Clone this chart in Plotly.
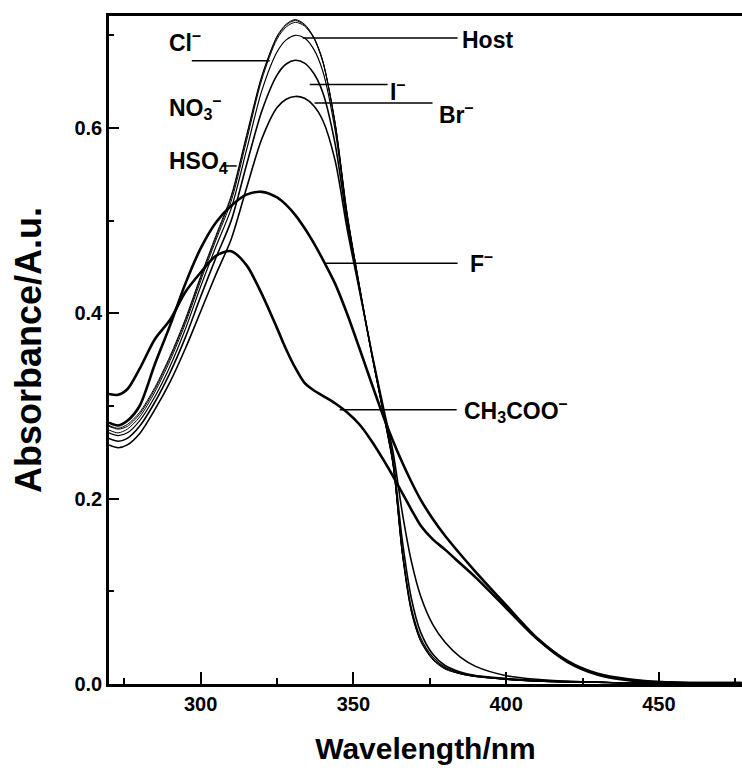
import plotly.graph_objects as go

# ---------------- data ----------------
wavelength = [270, 273, 276, 280, 285, 290, 295, 300, 305, 310, 315, 320, 325, 328, 331, 334, 337, 340, 344,
              348, 352, 356, 360, 363, 366, 369, 372, 376, 380, 385, 390, 400, 410, 420, 430, 440, 450, 460, 477]

abs_cl = [0.279, 0.276, 0.280, 0.293, 0.320, 0.354, 0.394, 0.440, 0.484, 0.527, 0.592, 0.656, 0.699, 0.712, 0.717, 0.712,
          0.698, 0.672, 0.605, 0.505, 0.428, 0.355, 0.288, 0.235, 0.140, 0.077, 0.046, 0.026, 0.016, 0.011, 0.008,
          0.005, 0.003, 0.002, 0.002, 0.001, 0.001, 0.001, 0.001]
abs_no3 = [0.274, 0.271, 0.275, 0.288, 0.315, 0.349, 0.389, 0.435, 0.479, 0.521, 0.586, 0.652, 0.696, 0.709, 0.714,
           0.710, 0.697, 0.671, 0.605, 0.506, 0.429, 0.356, 0.289, 0.236, 0.141, 0.078, 0.047, 0.027, 0.017, 0.011,
           0.008, 0.005, 0.003, 0.002, 0.002, 0.001, 0.001, 0.001, 0.001]
abs_hso4 = [0.278, 0.275, 0.278, 0.291, 0.318, 0.352, 0.392, 0.438, 0.482, 0.525, 0.590, 0.655, 0.698, 0.711, 0.716,
            0.711, 0.698, 0.672, 0.606, 0.507, 0.430, 0.357, 0.290, 0.237, 0.142, 0.079, 0.047, 0.027, 0.017, 0.011,
            0.008, 0.005, 0.003, 0.002, 0.002, 0.001, 0.001, 0.001, 0.001]
abs_host = [0.271, 0.268, 0.271, 0.284, 0.310, 0.343, 0.383, 0.429, 0.472, 0.513, 0.576, 0.640, 0.682, 0.695, 0.700,
            0.697, 0.685, 0.661, 0.598, 0.503, 0.428, 0.356, 0.290, 0.238, 0.145, 0.082, 0.050, 0.029, 0.018, 0.012,
            0.009, 0.005, 0.003, 0.002, 0.002, 0.001, 0.001, 0.001, 0.001]
abs_i = [0.265, 0.262, 0.265, 0.278, 0.304, 0.336, 0.374, 0.418, 0.460, 0.500, 0.560, 0.618, 0.657, 0.669, 0.673, 0.670,
         0.659, 0.638, 0.583, 0.497, 0.426, 0.357, 0.292, 0.242, 0.155, 0.092, 0.056, 0.032, 0.020, 0.013, 0.009,
         0.006, 0.004, 0.003, 0.002, 0.001, 0.001, 0.001, 0.001]
abs_br = [0.258, 0.255, 0.258, 0.270, 0.296, 0.326, 0.362, 0.402, 0.442, 0.480, 0.535, 0.588, 0.622, 0.631, 0.634,
          0.632, 0.624, 0.608, 0.565, 0.490, 0.424, 0.358, 0.296, 0.250, 0.185, 0.132, 0.095, 0.064, 0.045, 0.029,
          0.019, 0.009, 0.005, 0.003, 0.002, 0.001, 0.001, 0.001, 0.001]
abs_f = [0.282, 0.279, 0.284, 0.300, 0.345, 0.387, 0.432, 0.470, 0.498, 0.516, 0.528, 0.531, 0.525, 0.517, 0.506,
         0.492, 0.476, 0.458, 0.432, 0.399, 0.362, 0.324, 0.287, 0.262, 0.239, 0.218, 0.199, 0.178, 0.160, 0.140,
         0.121, 0.085, 0.050, 0.025, 0.011, 0.005, 0.002, 0.001, 0.001]
abs_ac = [0.313, 0.312, 0.318, 0.340, 0.372, 0.393, 0.423, 0.444, 0.462, 0.467, 0.452, 0.421, 0.384, 0.361, 0.341,
          0.325, 0.317, 0.311, 0.303, 0.293, 0.280, 0.262, 0.241, 0.224, 0.206, 0.188, 0.171, 0.156, 0.145, 0.130,
          0.115, 0.082, 0.049, 0.024, 0.010, 0.004, 0.002, 0.001, 0.001]

series_names = ["Cl-", "NO3-", "HSO4-", "Host", "I-", "Br-", "F-", "CH3COO-"]
series_values = [abs_cl, abs_no3, abs_hso4, abs_host, abs_i, abs_br, abs_f, abs_ac]
series_widths = [1, 1, 1, 1.2, 1.6, 1.6, 2.6, 2.6]

# label texts, positions (data coords) and leader lines
label_texts = ["Cl<sup>–</sup>", "Host", "I<sup>–</sup>", "Br<sup>–</sup>", "NO<sub>3</sub><sup>–</sup>",
               "HSO<sub>4</sub>", "F<sup>–</sup>", "CH<sub>3</sub>COO<sup>–</sup>"]
label_x = [288.9, 384.8, 361.2, 377.3, 288.9, 288.9, 387.4, 385.4]
label_y = [0.694, 0.695, 0.641, 0.616, 0.623, 0.563, 0.455, 0.296]
leader_x0 = [297.1, 333.4, 335.7, 337.3, 306.9, 340.6, 345.5]
leader_x1 = [322.6, 384.1, 361.2, 375.9, 311.8, 384.1, 383.8]
leader_y = [0.6726, 0.697, 0.647, 0.627, 0.559, 0.454, 0.296]

x_ticks = [300, 350, 400, 450]
y_ticks = [0.0, 0.2, 0.4, 0.6]

FONT = "Liberation Sans, Arial, sans-serif"

fig = go.Figure()
for name, vals, w in zip(series_names, series_values, series_widths):
    fig.add_trace(go.Scatter(x=wavelength, y=vals, mode="lines", name=name,
                             line=dict(color="black", width=w, shape="spline", smoothing=0.8),
                             showlegend=False, hoverinfo="x+y+name"))

for t, lx, ly in zip(label_texts, label_x, label_y):
    fig.add_annotation(x=lx, y=ly, xref="x", yref="y", text=t, showarrow=False,
                       xanchor="left", yanchor="middle",
                       font=dict(family=FONT, size=23, color="black", weight="bold"))

for x0, x1, y in zip(leader_x0, leader_x1, leader_y):
    fig.add_shape(type="line", xref="x", yref="y", x0=x0, x1=x1, y0=y, y1=y,
                  line=dict(color="black", width=1.5))

fig.update_layout(
    width=742, height=771,
    margin=dict(l=109, r=0, t=16, b=87),
    paper_bgcolor="white", plot_bgcolor="white",
    font=dict(family=FONT, color="black"),
)
fig.update_xaxes(
    range=[270, 477.2], tickvals=x_ticks, ticktext=[str(v) for v in x_ticks],
    ticks="inside", ticklen=12, tickwidth=2, tickcolor="black",
    minor=dict(dtick=25, tick0=275, ticks="inside", ticklen=6, tickwidth=2, tickcolor="black"),
    showline=True, linecolor="black", linewidth=2.5, mirror=True,
    showgrid=False, zeroline=False,
    tickfont=dict(family=FONT, size=20, color="black", weight="bold"),
    title=dict(text="Wavelength/nm", font=dict(family=FONT, size=30, color="black", weight="bold"), standoff=25),
)
fig.update_yaxes(
    range=[0, 0.7208], tickvals=y_ticks, ticktext=["%.1f" % v for v in y_ticks],
    ticks="inside", ticklen=10, tickwidth=2, tickcolor="black",
    minor=dict(dtick=0.1, tick0=0.1, ticks="inside", ticklen=5, tickwidth=2, tickcolor="black"),
    showline=True, linecolor="black", linewidth=2.5, mirror=False,
    showgrid=False, zeroline=False,
    tickfont=dict(family=FONT, size=20, color="black", weight="bold"),
    title=dict(text="Absorbance/A.u.", font=dict(family=FONT, size=36, color="black", weight="bold"), standoff=22),
)

fig.write_html("out.html")
